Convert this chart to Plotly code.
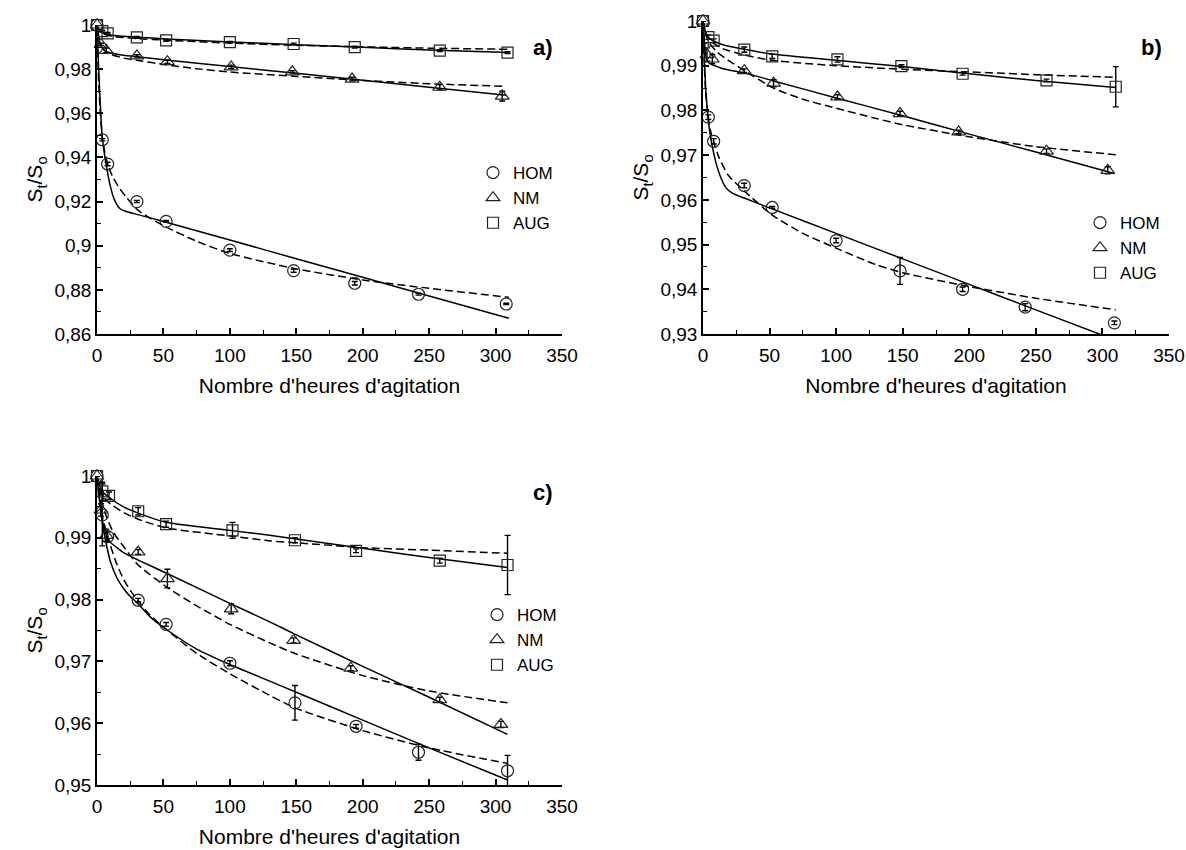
import plotly.graph_objects as go

# ---------------- Panel a ----------------
t_hom_a = [0, 4, 8, 30, 52, 100, 148, 194, 242, 308]
s_hom_a = [1.0, 0.948, 0.937, 0.920, 0.911, 0.898, 0.8887, 0.883, 0.878, 0.8736]
e_hom_a = [0, 0.0005, 0.0008, 0.0005, 0.0004, 0.0006, 0.0007, 0.0008, 0.0004, 0.0003]
t_nm_a = [0, 3, 7, 30, 53, 101, 147, 192, 258, 305]
s_nm_a = [1.0, 0.9912, 0.9885, 0.986, 0.9834, 0.981, 0.9788, 0.9755, 0.9718, 0.9678]
e_nm_a = [0, 0.0005, 0.001, 0.0005, 0.0008, 0.0008, 0.0005, 0.0008, 0.0012, 0.0022]
t_aug_a = [0, 4, 8, 30, 52, 100, 148, 194, 258, 309]
s_aug_a = [1.0, 0.9972, 0.9962, 0.9944, 0.993, 0.9922, 0.9914, 0.990, 0.9884, 0.9875]
e_aug_a = [0, 0.0004, 0.0004, 0.0004, 0.0004, 0.0004, 0.0004, 0.0004, 0.0004, 0.0004]

fit_hom_a_solid_t = [0, 1, 2, 3, 4, 6, 8, 10, 13, 17, 22, 30, 50, 100, 150, 200, 250, 310]
fit_hom_a_solid_s = [1.0, 0.984, 0.970, 0.958, 0.949, 0.940, 0.933, 0.927, 0.921, 0.917, 0.9155, 0.9142, 0.911, 0.9026, 0.8941, 0.8857, 0.8772, 0.8671]
fit_hom_a_dash_t = [0, 1, 2, 4, 6, 8, 12, 17, 22, 31, 40, 52, 75, 100, 150, 200, 250, 310]
fit_hom_a_dash_s = [1.0, 0.978, 0.965, 0.949, 0.942, 0.937, 0.931, 0.926, 0.922, 0.916, 0.9125, 0.9085, 0.902, 0.8965, 0.8895, 0.8845, 0.8807, 0.8766]
fit_nm_a_solid_t = [0, 1, 2, 3, 5, 8, 12, 20, 30, 50, 100, 150, 200, 250, 308]
fit_nm_a_solid_s = [1.0, 0.996, 0.9925, 0.9905, 0.9888, 0.9878, 0.9871, 0.9863, 0.9856, 0.9843, 0.9812, 0.9781, 0.9750, 0.9718, 0.9682]
fit_nm_a_dash_t = [0, 1, 2, 4, 7, 10, 20, 30, 52, 75, 100, 150, 200, 250, 308]
fit_nm_a_dash_s = [1.0, 0.995, 0.992, 0.9895, 0.9878, 0.9868, 0.985, 0.984, 0.982, 0.9802, 0.9787, 0.9767, 0.9749, 0.9734, 0.9722]
fit_aug_a_solid_t = [0, 1, 2, 4, 8, 15, 30, 52, 100, 150, 200, 250, 310]
fit_aug_a_solid_s = [1.0, 0.9985, 0.9975, 0.9965, 0.9957, 0.9951, 0.9945, 0.9937, 0.9923, 0.9911, 0.9899, 0.9887, 0.9875]
fit_aug_a_dash_t = [0, 1, 2, 4, 8, 15, 30, 52, 100, 150, 200, 250, 310]
fit_aug_a_dash_s = [1.0, 0.9983, 0.9972, 0.9962, 0.9953, 0.9946, 0.9939, 0.9931, 0.9918, 0.9908, 0.9901, 0.9895, 0.989]

# ---------------- Panel b ----------------
t_hom_b = [0, 4, 8, 31, 52, 100, 148, 195, 242, 309]
s_hom_b = [1.0, 0.9785, 0.9731, 0.9632, 0.9583, 0.9509, 0.9441, 0.940, 0.936, 0.9325]
e_hom_b = [0, 0.0005, 0.0006, 0.0005, 0.0002, 0.0005, 0.003, 0.0005, 0.0008, 0.0004]
t_nm_b = [0, 3, 7, 31, 53, 101, 148, 192, 258, 304]
s_nm_b = [1.0, 0.9925, 0.9915, 0.9889, 0.9861, 0.983, 0.9793, 0.9752, 0.9709, 0.9666]
e_nm_b = [0, 0.0015, 0.001, 0.0004, 0.0008, 0.0005, 0.0005, 0.0004, 0.0005, 0.0008]
t_aug_b = [0, 4, 8, 31, 52, 101, 149, 195, 258, 310]
s_aug_b = [1.0, 0.9964, 0.9956, 0.9936, 0.9921, 0.9914, 0.9899, 0.9882, 0.9867, 0.9853]
e_aug_b = [0, 0.0005, 0.0004, 0.0006, 0.0005, 0.0006, 0.0003, 0.0003, 0.0003, 0.0045]

fit_hom_b_solid_t = [0, 1, 2, 3, 4, 6, 8, 10, 13, 17, 22, 31, 50, 100, 150, 200, 250, 310]
fit_hom_b_solid_s = [1.0, 0.992, 0.985, 0.981, 0.9775, 0.9735, 0.9705, 0.968, 0.9653, 0.9628, 0.9615, 0.9604, 0.9582, 0.9525, 0.9468, 0.9411, 0.9354, 0.9286]
fit_hom_b_dash_t = [0, 1, 2, 4, 6, 8, 12, 19, 31, 52, 75, 100, 130, 150, 200, 250, 310]
fit_hom_b_dash_s = [1.0, 0.990, 0.984, 0.9785, 0.975, 0.973, 0.9695, 0.9655, 0.962, 0.9566, 0.9525, 0.9492, 0.9455, 0.9437, 0.9406, 0.938, 0.9354]
fit_nm_b_solid_t = [0, 1, 2, 3, 5, 8, 15, 31, 53, 100, 150, 200, 250, 309]
fit_nm_b_solid_s = [1.0, 0.996, 0.9925, 0.9912, 0.9905, 0.9901, 0.9893, 0.9884, 0.9866, 0.9828, 0.9788, 0.9747, 0.9707, 0.9659]
fit_nm_b_dash_t = [0, 2, 5, 10, 19, 31, 53, 75, 100, 130, 150, 200, 250, 310]
fit_nm_b_dash_s = [1.0, 0.997, 0.995, 0.9932, 0.9912, 0.9889, 0.985, 0.9825, 0.9805, 0.9782, 0.9768, 0.9741, 0.9719, 0.9701]
fit_aug_b_solid_t = [0, 1, 2, 4, 8, 15, 31, 52, 100, 150, 200, 250, 310]
fit_aug_b_solid_s = [1.0, 0.9985, 0.9975, 0.9963, 0.9955, 0.9947, 0.9937, 0.9926, 0.9912, 0.9898, 0.9882, 0.9867, 0.9851]
fit_aug_b_dash_t = [0, 2, 4, 8, 15, 31, 52, 100, 150, 200, 250, 310]
fit_aug_b_dash_s = [1.0, 0.9975, 0.9962, 0.995, 0.9938, 0.9924, 0.9912, 0.990, 0.9892, 0.9886, 0.988, 0.9874]

# ---------------- Panel c ----------------
t_hom_c = [0, 4, 8, 31, 52, 100, 149, 195, 242, 309]
s_hom_c = [1.0, 0.9937, 0.9902, 0.9799, 0.976, 0.9697, 0.9633, 0.9595, 0.9553, 0.9523]
e_hom_c = [0, 0.005, 0.0008, 0.0003, 0.0003, 0.0004, 0.0028, 0.0003, 0.0013, 0.0025]
t_nm_c = [0, 3, 7, 31, 53, 101, 148, 191, 258, 304]
s_nm_c = [1.0, 0.9945, 0.9904, 0.9877, 0.9834, 0.9785, 0.9734, 0.9689, 0.9638, 0.9598]
e_nm_c = [0, 0.001, 0.001, 0.0004, 0.0015, 0.0008, 0.0004, 0.0004, 0.0004, 0.0005]
t_aug_c = [0, 4, 9, 31, 52, 102, 149, 195, 258, 309]
s_aug_c = [1.0, 0.9975, 0.9968, 0.9943, 0.9922, 0.9912, 0.9896, 0.9879, 0.9863, 0.9856]
e_aug_c = [0, 0.0015, 0.0006, 0.0006, 0.0005, 0.0013, 0.0004, 0.0003, 0.0004, 0.0048]

fit_hom_c_solid_t = [0, 2, 4, 7, 10, 15, 20, 25, 31, 40, 52, 75, 100, 130, 150, 200, 250, 309]
fit_hom_c_solid_s = [1.0, 0.996, 0.9925, 0.989, 0.9862, 0.9835, 0.9818, 0.9805, 0.9793, 0.9772, 0.9752, 0.972, 0.9695, 0.9668, 0.965, 0.9605, 0.956, 0.9508]
fit_hom_c_dash_t = [0, 2, 4, 7, 10, 15, 20, 25, 31, 40, 52, 75, 100, 130, 150, 200, 250, 309]
fit_hom_c_dash_s = [1.0, 0.9962, 0.9935, 0.991, 0.9888, 0.9857, 0.9833, 0.9815, 0.9798, 0.9775, 0.9752, 0.9713, 0.968, 0.9645, 0.9624, 0.9588, 0.956, 0.9535]
fit_nm_c_solid_t = [0, 2, 4, 7, 10, 15, 20, 31, 54, 100, 130, 150, 200, 250, 309]
fit_nm_c_solid_s = [1.0, 0.996, 0.9928, 0.9905, 0.9893, 0.9884, 0.9876, 0.9864, 0.9841, 0.9794, 0.9764, 0.9743, 0.9692, 0.9642, 0.9582]
fit_nm_c_dash_t = [0, 2, 4, 7, 12, 20, 31, 54, 75, 100, 130, 150, 200, 250, 309]
fit_nm_c_dash_s = [1.0, 0.9975, 0.9955, 0.9935, 0.991, 0.9886, 0.9856, 0.9818, 0.979, 0.976, 0.973, 0.9712, 0.9677, 0.9652, 0.9633]
fit_aug_c_solid_t = [0, 2, 4, 10, 20, 31, 52, 100, 130, 150, 200, 250, 309]
fit_aug_c_solid_s = [1.0, 0.9985, 0.9975, 0.9964, 0.995, 0.994, 0.9925, 0.9912, 0.9904, 0.9898, 0.9883, 0.9868, 0.9852]
fit_aug_c_dash_t = [0, 2, 4, 10, 20, 31, 52, 100, 130, 150, 200, 250, 309]
fit_aug_c_dash_s = [1.0, 0.998, 0.9968, 0.9955, 0.9941, 0.993, 0.9916, 0.9903, 0.9895, 0.9892, 0.9884, 0.988, 0.9875]

# ---------------- Axes / labels ----------------
x_tickvals = [0, 50, 100, 150, 200, 250, 300, 350]
x_ticktext = ["0", "50", "100", "150", "200", "250", "300", "350"]
ya_tickvals = [0.86, 0.88, 0.90, 0.92, 0.94, 0.96, 0.98, 1.0]
ya_ticktext = ["0,86", "0,88", "0,9", "0,92", "0,94", "0,96", "0,98", "1"]
yb_tickvals = [0.93, 0.94, 0.95, 0.96, 0.97, 0.98, 0.99, 1.0]
yb_ticktext = ["0,93", "0,94", "0,95", "0,96", "0,97", "0,98", "0,99", "1"]
yc_tickvals = [0.95, 0.96, 0.97, 0.98, 0.99, 1.0]
yc_ticktext = ["0,95", "0,96", "0,97", "0,98", "0,99", "1"]
series_names = ["HOM", "NM", "AUG"]
panel_labels = ["a)", "b)", "c)"]
x_title = "Nombre d'heures d'agitation"
y_title = "S<sub>t</sub>/S<sub>o</sub>"

FONT = "Liberation Sans, Arial, sans-serif"
W, H = 1186, 850

fig = go.Figure()
symbols = ["circle-open", "triangle-up-open", "square-open"]
sizes = [12, 12, 11]

panels = [
    dict(ax="x", ay="y", leg="legend",
         pts=[(t_hom_a, s_hom_a, e_hom_a), (t_nm_a, s_nm_a, e_nm_a), (t_aug_a, s_aug_a, e_aug_a)],
         fits=[(fit_hom_a_solid_t, fit_hom_a_solid_s, fit_hom_a_dash_t, fit_hom_a_dash_s),
               (fit_nm_a_solid_t, fit_nm_a_solid_s, fit_nm_a_dash_t, fit_nm_a_dash_s),
               (fit_aug_a_solid_t, fit_aug_a_solid_s, fit_aug_a_dash_t, fit_aug_a_dash_s)]),
    dict(ax="x2", ay="y2", leg="legend2",
         pts=[(t_hom_b, s_hom_b, e_hom_b), (t_nm_b, s_nm_b, e_nm_b), (t_aug_b, s_aug_b, e_aug_b)],
         fits=[(fit_hom_b_solid_t, fit_hom_b_solid_s, fit_hom_b_dash_t, fit_hom_b_dash_s),
               (fit_nm_b_solid_t, fit_nm_b_solid_s, fit_nm_b_dash_t, fit_nm_b_dash_s),
               (fit_aug_b_solid_t, fit_aug_b_solid_s, fit_aug_b_dash_t, fit_aug_b_dash_s)]),
    dict(ax="x3", ay="y3", leg="legend3",
         pts=[(t_hom_c, s_hom_c, e_hom_c), (t_nm_c, s_nm_c, e_nm_c), (t_aug_c, s_aug_c, e_aug_c)],
         fits=[(fit_hom_c_solid_t, fit_hom_c_solid_s, fit_hom_c_dash_t, fit_hom_c_dash_s),
               (fit_nm_c_solid_t, fit_nm_c_solid_s, fit_nm_c_dash_t, fit_nm_c_dash_s),
               (fit_aug_c_solid_t, fit_aug_c_solid_s, fit_aug_c_dash_t, fit_aug_c_dash_s)]),
]

for p in panels:
    for (st, ss, dt, ds) in p["fits"]:
        fig.add_trace(go.Scatter(x=st, y=ss, mode="lines", xaxis=p["ax"], yaxis=p["ay"],
                                 line=dict(color="black", width=1.5, shape="spline", smoothing=0.6),
                                 showlegend=False, hoverinfo="skip", cliponaxis=False))
        fig.add_trace(go.Scatter(x=dt, y=ds, mode="lines", xaxis=p["ax"], yaxis=p["ay"],
                                 line=dict(color="black", width=1.5, dash="8px,4px", shape="spline", smoothing=0.6),
                                 showlegend=False, hoverinfo="skip", cliponaxis=False))
    for i, (t, s, e) in enumerate(p["pts"]):
        fig.add_trace(go.Scatter(x=t, y=s, mode="markers", name=series_names[i],
                                 xaxis=p["ax"], yaxis=p["ay"], legend=p["leg"],
                                 marker=dict(symbol=symbols[i], size=sizes[i], color="#222",
                                             line=dict(width=1.2, color="#222")),
                                 error_y=dict(type="data", array=e, visible=True, color="black",
                                              thickness=1.4, width=3),
                                 cliponaxis=False))

def px_x(a, b):
    return [a / W, b / W]

def px_y(top, bot):
    return [1 - bot / H, 1 - top / H]

axis_common = dict(showline=True, linecolor="black", linewidth=1.5, ticks="inside", ticklen=6,
                   tickwidth=1.5, tickcolor="black", showgrid=False, zeroline=False,
                   automargin=False,
                   tickfont=dict(family=FONT, size=19, color="black"),
                   minor=dict(ticks="inside", ticklen=4, tickwidth=1.2, tickcolor="black", showgrid=False))

def xaxis(dom, anchor):
    d = dict(axis_common)
    d.update(domain=dom, anchor=anchor, range=[0, 350], tickmode="array",
             tickvals=x_tickvals, ticktext=x_ticktext, ticklabelstandoff=3,
             title=dict(text=x_title, font=dict(family=FONT, size=21, color="black"), standoff=14))
    d["minor"] = dict(axis_common["minor"], tickmode="linear", tick0=0, dtick=25)
    return d

def yaxis(dom, anchor, rng, tv, tt, mdt):
    d = dict(axis_common)
    d.update(domain=dom, anchor=anchor, range=rng, tickmode="array", tickvals=tv, ticktext=tt,
             title=dict(text=y_title, font=dict(family=FONT, size=21, color="black"), standoff=6))
    d["minor"] = dict(axis_common["minor"], tickmode="linear", tick0=rng[0], dtick=mdt)
    return d

LEGFONT = dict(family=FONT, size=17, color="black")

fig.update_layout(
    width=W, height=H, margin=dict(l=0, r=0, t=0, b=0),
    paper_bgcolor="white", plot_bgcolor="white",
    font=dict(family=FONT, size=18, color="black"),
    xaxis=xaxis(px_x(97, 562), "y"),
    yaxis=yaxis(px_y(25, 334), "x", [0.86, 1.0], ya_tickvals, ya_ticktext, 0.01),
    xaxis2=xaxis(px_x(703, 1169), "y2"),
    yaxis2=yaxis(px_y(21, 334), "x2", [0.93, 1.0], yb_tickvals, yb_ticktext, 0.005),
    xaxis3=xaxis(px_x(97, 562), "y3"),
    yaxis3=yaxis(px_y(476, 785), "x3", [0.95, 1.0], yc_tickvals, yc_ticktext, 0.005),
    legend=dict(x=473 / W, y=1 - 155 / H, xanchor="left", yanchor="top",
                bgcolor="rgba(0,0,0,0)", font=LEGFONT, tracegroupgap=0),
    legend2=dict(x=1080 / W, y=1 - 205 / H, xanchor="left", yanchor="top",
                 bgcolor="rgba(0,0,0,0)", font=LEGFONT, tracegroupgap=0),
    legend3=dict(x=477 / W, y=1 - 597 / H, xanchor="left", yanchor="top",
                 bgcolor="rgba(0,0,0,0)", font=LEGFONT, tracegroupgap=0),
    annotations=[
        dict(text="<b>" + panel_labels[0] + "</b>", x=555 / W, y=1 - 47 / H, xref="paper", yref="paper",
             xanchor="right", yanchor="middle", showarrow=False, font=dict(family=FONT, size=22)),
        dict(text="<b>" + panel_labels[1] + "</b>", x=1164 / W, y=1 - 47 / H, xref="paper", yref="paper",
             xanchor="right", yanchor="middle", showarrow=False, font=dict(family=FONT, size=22)),
        dict(text="<b>" + panel_labels[2] + "</b>", x=555 / W, y=1 - 492 / H, xref="paper", yref="paper",
             xanchor="right", yanchor="middle", showarrow=False, font=dict(family=FONT, size=22)),
    ],
)

fig.write_html("out.html",
               config={"displayModeBar": False},
               post_script="document.body.style.margin='0';document.body.style.overflow='hidden';")
